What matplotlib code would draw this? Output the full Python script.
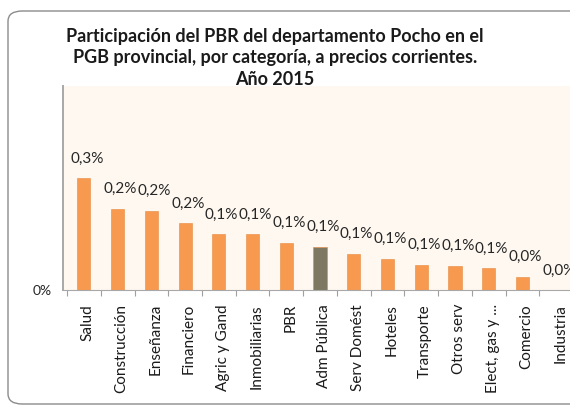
import matplotlib
matplotlib.use('Agg')
import matplotlib.pyplot as plt
import matplotlib.transforms as mtransforms
from matplotlib.patches import FancyBboxPatch
import numpy as np

plt.rcParams['font.family'] = ['Lato', 'DejaVu Sans']

# Data (percent of provincial PGB)
categorias = ['Salud', 'Construcción', 'Enseñanza', 'Financiero', 'Agric y Gand',
              'Inmobiliarias', 'PBR', 'Adm Pública', 'Serv Domést', 'Hoteles',
              'Transporte', 'Otros serv', 'Elect, gas y ...', 'Comercio', 'Industria']
valores = [0.29, 0.21, 0.205, 0.173, 0.145, 0.145, 0.122, 0.112, 0.094,
           0.081, 0.065, 0.063, 0.057, 0.034, 0.0]
etiquetas = ['0,3%', '0,2%', '0,2%', '0,2%', '0,1%', '0,1%', '0,1%', '0,1%',
             '0,1%', '0,1%', '0,1%', '0,1%', '0,1%', '0,0%', '0,0%']

naranja = '#F79A50'
gris = '#7E7862'
colores = [gris if c == 'Adm Pública' else naranja for c in categorias]

fig = plt.figure(figsize=(5.7, 4.08), dpi=100)

# outer rounded frame
marco = FancyBboxPatch((8 / 570, 4 / 408), 600 / 570, 393 / 408,
                       boxstyle='round,pad=0,rounding_size=0.025',
                       transform=fig.transFigure, facecolor='white',
                       edgecolor='#8C8C8C', linewidth=1.0, zorder=-10)
fig.patches.append(marco)

ax = fig.add_axes([63 / 570, 118 / 408, 510 / 570, 204 / 408])
ax.set_facecolor('#FEF8F0')

x = np.arange(len(categorias))
ax.bar(x, valores, width=0.39, color=colores, edgecolor='#E8883E', linewidth=0.4)

for xi, v, t in zip(x, valores, etiquetas):
    ax.annotate(t, (xi, v), xytext=(2, 9), textcoords='offset points',
                ha='center', va='bottom', fontsize=11, color='#262626',
                annotation_clip=False)

ax.set_xlim(-0.62, 14.5)
ax.set_ylim(0, 0.528)

ax.set_yticks([0])
ax.set_yticklabels(['0%'], fontsize=10)
ax.tick_params(axis='y', length=0, pad=8, colors='#262626')

ax.set_xticks(np.arange(-0.5, 15, 1))
ax.set_xticklabels([])
ax.tick_params(axis='x', which='major', length=4, color='#A0A0A0', direction='out')
ax.set_xticks(x, minor=True)
ax.set_xticklabels(categorias, minor=True, rotation=90, fontsize=11, color='#1A1A1A')
ax.tick_params(axis='x', which='minor', length=0, pad=10)
offset = mtransforms.ScaledTranslation(4 / 100, 0, fig.dpi_scale_trans)
for lbl in ax.get_xticklabels(minor=True):
    lbl.set_transform(lbl.get_transform() + offset)

for s in ['top', 'right']:
    ax.spines[s].set_visible(False)
ax.spines['left'].set_color('#A8A8A8')
ax.spines['left'].set_linewidth(1.4)
ax.spines['bottom'].set_color('#A8A8A8')

fig.text(275 / 570, 1 - 58 / 408,
         'Participación del PBR del departamento Pocho en el\n'
         'PGB provincial, por categoría, a precios corrientes.\n'
         'Año 2015',
         ha='center', va='center', fontsize=13, fontweight='bold',
         linespacing=1.3, color='#1A1A1A')

fig.savefig('out.png', dpi=100)
